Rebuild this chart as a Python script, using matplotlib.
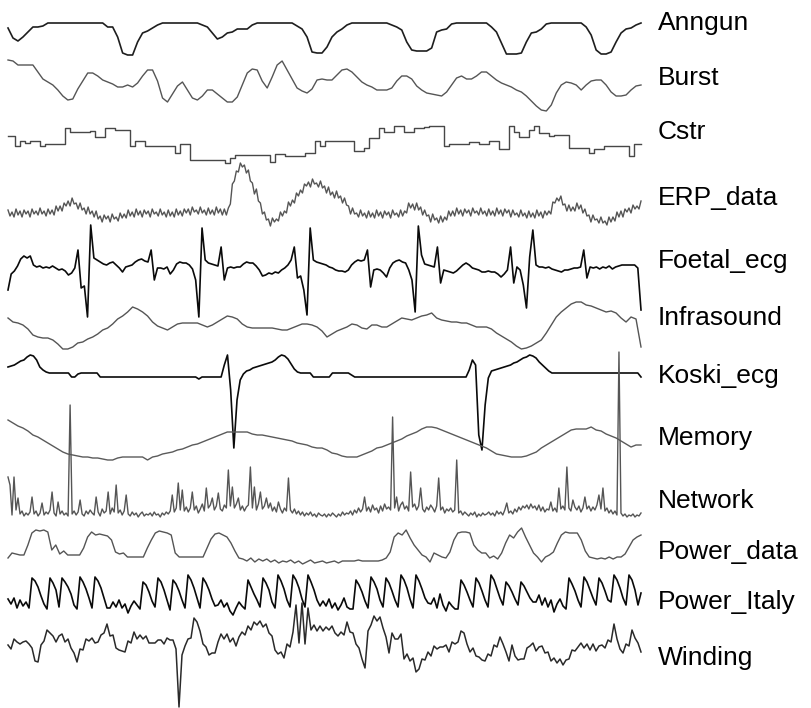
import numpy as np
import matplotlib.pyplot as plt

names = ["Anngun", "Burst", "Cstr", "ERP_data", "Foetal_ecg", "Infrasound",
         "Koski_ecg", "Memory", "Network", "Power_data", "Power_Italy", "Winding"]

anngun = [27, 17, 14, 18, 23, 28, 28, 29, 32, 32,
          32, 32, 32, 32, 32, 32, 32, 32, 32, 32,
          28, 28, 18, 2, 0, 0, 13, 22, 24, 27,
          30, 32, 32, 32, 32, 32, 32, 32, 32, 30,
          28, 22, 16, 18, 22, 23, 26, 26, 26, 30,
          32, 32, 32, 32, 32, 32, 32, 32, 29, 26,
          18, 3, 2, 2, 8, 18, 23, 26, 30, 32,
          32, 32, 32, 32, 32, 32, 32, 30, 28, 25,
          13, 5, 4, 4, 4, 7, 23, 25, 26, 31,
          32, 32, 32, 32, 32, 32, 32, 28, 23, 12,
          1, 1, 1, 2, 13, 22, 23, 26, 31, 32,
          32, 32, 32, 32, 32, 32, 28, 20, 5, 1,
          1, 3, 13, 22, 26, 27, 30, 32]

burst = [53, 52, 48, 48, 48, 48, 41, 34, 31, 28,
         23, 17, 13, 14, 24, 32, 40, 40, 37, 33,
         31, 29, 26, 26, 28, 26, 30, 37, 43, 43,
         32, 15, 11, 19, 27, 31, 23, 15, 13, 17,
         23, 23, 19, 15, 11, 11, 16, 28, 40, 44,
         43, 32, 25, 36, 48, 52, 43, 34, 25, 22,
         20, 24, 33, 34, 33, 33, 38, 43, 44, 41,
         36, 31, 28, 26, 23, 23, 23, 25, 32, 37,
         37, 34, 27, 23, 20, 19, 18, 17, 21, 28,
         35, 37, 34, 34, 37, 41, 41, 37, 33, 30,
         28, 26, 23, 21, 17, 12, 7, 3, 2, 8,
         20, 28, 31, 30, 28, 23, 28, 32, 33, 33,
         28, 21, 17, 17, 18, 23, 27, 28]

cstr = [27, 27, 17, 22, 20, 22, 22, 17, 19, 19,
        19, 19, 35, 31, 31, 31, 31, 32, 26, 26,
        35, 35, 33, 33, 33, 17, 22, 22, 17, 17,
        17, 17, 17, 17, 10, 19, 19, 3, 3, 3,
        3, 3, 3, 3, 0, 5, 8, 8, 8, 8,
        8, 8, 8, 1, 9, 9, 7, 7, 7, 7,
        10, 10, 22, 17, 22, 22, 22, 22, 22, 22,
        12, 12, 15, 25, 25, 35, 31, 31, 37, 37,
        31, 31, 35, 35, 36, 37, 37, 37, 17, 19,
        19, 19, 19, 21, 21, 19, 19, 22, 22, 14,
        14, 37, 31, 26, 26, 33, 37, 30, 30, 27,
        28, 28, 28, 15, 15, 15, 15, 10, 14, 14,
        17, 17, 17, 17, 17, 7, 19, 19]

erp_data = [20, 14, 18, 13, 21, 15, 19, 13, 20, 16,
            19, 13, 21, 16, 19, 15, 22, 16, 19, 14,
            21, 16, 20, 15, 24, 19, 24, 19, 27, 24,
            29, 24, 32, 26, 27, 21, 27, 20, 22, 16,
            23, 16, 19, 13, 19, 11, 14, 8, 15, 11,
            14, 8, 16, 11, 13, 9, 17, 12, 16, 12,
            20, 14, 18, 13, 21, 15, 19, 13, 20, 16,
            19, 13, 21, 16, 18, 14, 21, 15, 18, 13,
            20, 14, 18, 13, 21, 15, 19, 14, 21, 17,
            21, 15, 23, 18, 20, 16, 23, 17, 20, 15,
            22, 16, 20, 15, 23, 17, 21, 15, 21, 15,
            22, 26, 46, 49, 59, 58, 67, 63, 65, 57,
            60, 49, 47, 36, 41, 29, 27, 16, 18, 10,
            11, 4, 12, 8, 11, 9, 18, 14, 19, 17,
            28, 24, 30, 27, 37, 34, 40, 37, 46, 44,
            48, 43, 51, 46, 47, 43, 49, 42, 44, 37,
            43, 35, 38, 32, 39, 32, 34, 27, 32, 25,
            24, 16, 22, 16, 17, 13, 20, 14, 17, 12,
            19, 13, 17, 12, 20, 14, 18, 12, 19, 15,
            18, 12, 20, 15, 17, 13, 20, 14, 19, 17,
            27, 22, 26, 20, 27, 20, 23, 15, 20, 14,
            15, 8, 16, 10, 12, 7, 14, 8, 13, 10,
            19, 14, 19, 14, 22, 16, 20, 14, 21, 17,
            20, 14, 22, 17, 19, 15, 22, 16, 19, 14,
            21, 15, 19, 14, 22, 16, 20, 14, 21, 17,
            20, 13, 20, 15, 17, 13, 20, 14, 17, 12,
            19, 13, 17, 12, 20, 14, 18, 12, 19, 15,
            19, 16, 28, 27, 32, 29, 34, 25, 26, 19,
            25, 19, 23, 19, 27, 21, 25, 17, 21, 14,
            15, 8, 15, 10, 11, 7, 13, 7, 9, 5,
            13, 8, 13, 9, 18, 13, 19, 13, 21, 18,
            22, 17, 25, 21, 24, 21, 29]

foetal_ecg = [30, 46, 49, 54, 61, 64, 62, 64, 55, 53,
              54, 52, 53, 52, 54, 52, 50, 51, 49, 45,
              47, 52, 70, 32, 34, 3, 95, 62, 60, 58,
              56, 55, 57, 58, 55, 52, 48, 53, 54, 55,
              58, 60, 61, 59, 58, 70, 40, 52, 52, 51,
              53, 46, 50, 56, 58, 57, 57, 55, 51, 40,
              3, 92, 60, 57, 56, 55, 54, 73, 40, 52,
              53, 52, 53, 53, 56, 58, 57, 57, 54, 50,
              44, 45, 47, 46, 48, 47, 50, 52, 55, 60,
              73, 42, 44, 30, 5, 92, 60, 58, 57, 56,
              55, 53, 52, 50, 49, 49, 48, 50, 55, 58,
              60, 59, 60, 70, 33, 50, 51, 50, 47, 43,
              52, 57, 59, 60, 58, 57, 50, 40, 8, 94,
              65, 56, 55, 54, 53, 73, 37, 50, 49, 48,
              47, 49, 52, 55, 57, 55, 52, 51, 50, 48,
              48, 49, 48, 48, 46, 43, 46, 50, 73, 37,
              53, 50, 35, 12, 63, 90, 55, 53, 53, 52,
              53, 51, 50, 49, 48, 50, 50, 51, 52, 52,
              53, 70, 42, 53, 52, 53, 51, 53, 52, 54,
              51, 53, 54, 55, 55, 55, 55, 55, 52, 10]

infrasound = [37, 33, 32, 30, 26, 20, 18, 17, 17, 15,
              11, 6, 6, 8, 12, 13, 16, 18, 21, 25,
              27, 31, 36, 39, 43, 48, 46, 43, 39, 33,
              29, 27, 25, 28, 31, 32, 32, 32, 32, 30,
              28, 30, 33, 36, 39, 38, 36, 31, 28, 27,
              27, 27, 27, 27, 26, 25, 25, 27, 29, 31,
              31, 30, 28, 24, 18, 21, 24, 26, 28, 31,
              30, 27, 26, 30, 30, 28, 28, 31, 34, 37,
              36, 35, 37, 39, 40, 42, 37, 35, 34, 33,
              33, 32, 32, 30, 28, 28, 28, 26, 22, 19,
              16, 13, 9, 6, 7, 9, 12, 15, 22, 30,
              38, 43, 47, 51, 53, 53, 50, 49, 47, 45,
              43, 44, 42, 37, 33, 38, 36, 8]

koski_ecg = [83, 84, 85, 87, 89, 90, 93, 95, 94, 90,
             83, 80, 78, 77, 77, 77, 77, 77, 77, 77,
             73, 73, 76, 77, 77, 77, 77, 77, 77, 73,
             73, 73, 73, 73, 73, 73, 73, 73, 73, 73,
             73, 73, 73, 73, 73, 73, 73, 73, 73, 73,
             73, 73, 73, 73, 73, 73, 73, 73, 73, 73,
             71, 73, 73, 73, 73, 73, 73, 73, 85, 95,
             60, 2, 50, 70, 76, 79, 80, 82, 83, 84,
             85, 86, 87, 88, 90, 93, 95, 94, 91, 86,
             81, 78, 77, 77, 77, 77, 73, 73, 73, 73,
             73, 73, 77, 77, 77, 77, 77, 77, 75, 73,
             73, 73, 73, 73, 73, 73, 73, 73, 73, 73,
             73, 73, 73, 73, 73, 73, 73, 73, 73, 73,
             73, 73, 73, 73, 73, 73, 73, 73, 73, 73,
             73, 73, 73, 73, 73, 80, 90, 85, 15, 0,
             45, 72, 79, 80, 81, 82, 83, 84, 85, 87,
             88, 90, 92, 93, 95, 94, 92, 88, 85, 82,
             79, 77, 77, 77, 77, 77, 77, 77, 77, 77,
             77, 77, 77, 77, 77, 77, 77, 77, 77, 77,
             77, 77, 77, 77, 77, 77, 77, 77, 77, 73]

memory = [45, 42, 39, 37, 34, 30, 28, 25, 22, 19,
          16, 13, 11, 10, 9, 8, 8, 7, 7, 6,
          5, 5, 7, 8, 8, 8, 8, 8, 5, 8,
          9, 11, 12, 13, 15, 16, 18, 20, 21, 23,
          25, 27, 29, 31, 33, 33, 33, 33, 33, 31,
          30, 30, 29, 28, 27, 26, 25, 24, 22, 21,
          20, 18, 17, 17, 15, 12, 11, 9, 8, 8,
          8, 10, 12, 14, 17, 18, 20, 22, 24, 26,
          29, 31, 33, 36, 38, 38, 37, 35, 33, 31,
          29, 27, 25, 23, 21, 19, 17, 14, 11, 10,
          9, 8, 8, 8, 9, 11, 13, 17, 20, 23,
          26, 29, 32, 35, 36, 36, 36, 38, 35, 34,
          31, 29, 27, 24, 21, 18, 20, 20]

network = [43, 35, 5, 43, 10, 22, 6, 9, 4, 7,
           5, 8, 23, 6, 9, 4, 7, 17, 5, 8,
           6, 10, 28, 7, 4, 18, 6, 9, 5, 7,
           4, 115, 6, 9, 5, 8, 20, 6, 4, 9,
           6, 10, 7, 5, 23, 8, 4, 11, 7, 9,
           28, 6, 12, 8, 35, 7, 10, 5, 9, 25,
           6, 4, 8, 5, 7, 3, 6, 8, 4, 6,
           5, 7, 4, 8, 5, 6, 3, 7, 5, 8,
           6, 9, 25, 8, 12, 37, 10, 30, 9, 13,
           8, 12, 28, 10, 14, 7, 11, 16, 9, 32,
           12, 15, 22, 10, 14, 27, 11, 9, 15, 12,
           50, 14, 33, 12, 16, 22, 10, 14, 9, 13,
           15, 53, 12, 33, 10, 16, 28, 11, 14, 22,
           12, 17, 9, 13, 8, 18, 11, 7, 12, 9,
           42, 10, 7, 11, 6, 9, 5, 8, 4, 7,
           5, 8, 4, 6, 3, 7, 5, 4, 6, 3,
           6, 4, 7, 5, 3, 6, 4, 8, 5, 7,
           6, 9, 5, 10, 7, 12, 8, 11, 23, 9,
           13, 8, 15, 10, 12, 7, 14, 9, 16, 11,
           13, 10, 103, 12, 23, 9, 15, 18, 11, 14,
           9, 48, 13, 16, 10, 14, 32, 11, 8, 13,
           10, 15, 12, 8, 14, 42, 10, 13, 7, 11,
           9, 12, 8, 10, 60, 7, 9, 5, 8, 6,
           4, 7, 5, 8, 3, 6, 4, 7, 5, 6,
           8, 5, 7, 4, 9, 6, 8, 5, 10, 17,
           7, 9, 6, 11, 8, 13, 10, 14, 12, 15,
           11, 16, 12, 14, 10, 15, 9, 13, 8, 11,
           10, 18, 9, 12, 8, 32, 11, 14, 10, 53,
           12, 9, 20, 13, 10, 14, 8, 12, 23, 11,
           14, 9, 13, 10, 15, 25, 11, 32, 9, 12,
           7, 10, 6, 9, 5, 168, 7, 4, 6, 3,
           5, 4, 6, 3, 5, 4, 7]

power_data = [7, 12, 11, 10, 10, 20, 32, 35, 34, 35,
              33, 15, 20, 11, 14, 10, 10, 10, 10, 17,
              28, 33, 30, 31, 30, 29, 25, 13, 11, 12,
              8, 8, 8, 8, 8, 17, 25, 32, 34, 33,
              32, 30, 12, 8, 8, 8, 8, 8, 8, 8,
              17, 26, 31, 32, 30, 28, 22, 14, 7, 6,
              4, 7, 3, 6, 4, 6, 3, 5, 2, 4,
              3, 5, 2, 4, 1, 3, 5, 2, 3, 4,
              2, 3, 4, 2, 4, 4, 4, 4, 5, 4,
              4, 4, 4, 4, 5, 7, 13, 28, 32, 30,
              35, 27, 20, 15, 10, 8, 3, 12, 10, 8,
              7, 13, 25, 32, 33, 33, 32, 20, 15, 12,
              12, 7, 9, 6, 12, 22, 30, 27, 33, 37,
              28, 20, 12, 8, 3, 8, 10, 13, 22, 30,
              33, 32, 32, 32, 25, 14, 8, 7, 6, 7,
              6, 8, 6, 8, 8, 11, 18, 25, 28, 30]

power_italy = [21, 16, 22, 12, 20, 14, 18, 12,
               42, 39, 33, 24, 16, 11,
               42, 37, 30, 13,
               42, 38, 33, 26, 15, 11,
               43, 38, 31, 22, 12,
               43, 39, 32, 22, 12,
               12, 18, 13, 20, 12, 16, 7, 14, 19, 15, 11,
               38, 35, 28, 19, 13,
               42, 38, 30, 20, 10,
               40, 36, 29, 20, 12,
               45, 40, 32, 22, 12,
               42, 37, 30, 21, 14,
               15, 20, 13, 17, 9, 5, 12, 18, 14, 11,
               40, 33, 26, 20, 13,
               42, 37, 30, 18, 12,
               45, 39, 31, 20, 13,
               45, 40, 32, 21, 13,
               45, 38, 30, 20, 14,
               19, 14, 21, 12, 17, 10, 15, 22, 13, 11, 11,
               40, 35, 28, 19, 12,
               43, 38, 31, 20, 13,
               42, 37, 29, 20, 13,
               45, 40, 32, 21, 12,
               45, 39, 31, 22, 17,
               16, 22, 12, 26, 15, 9, 18, 14, 11, 11,
               40, 35, 28, 20, 13,
               42, 37, 29, 20, 13,
               45, 40, 31, 22, 15,
               38, 34, 28, 21, 15,
               38, 34, 28, 22, 18,
               18, 25, 15, 22, 13, 20, 8, 16, 21, 14, 11,
               42, 36, 29, 20, 13,
               43, 38, 30, 22, 15,
               42, 37, 29, 20, 18,
               45, 40, 32, 22, 15,
               45, 40, 30, 15, 27]

winding = [65, 61, 71, 68, 66, 68, 69, 66, 62, 49,
           48, 65, 69, 80, 77, 74, 68, 74, 76, 68,
           71, 62, 57, 48, 61, 60, 71, 69, 72, 67,
           68, 75, 77, 86, 74, 75, 62, 60, 59, 58,
           69, 67, 78, 71, 75, 71, 74, 67, 67, 67,
           70, 70, 66, 72, 70, 70, 61, 3, 55, 64,
           71, 72, 92, 88, 79, 66, 63, 55, 57, 57,
           68, 76, 71, 76, 68, 72, 64, 73, 78, 75,
           84, 80, 88, 85, 89, 83, 86, 77, 74, 60,
           56, 58, 52, 66, 63, 78, 105, 67, 107, 66,
           102, 80, 85, 79, 84, 79, 83, 80, 84, 77,
           74, 78, 75, 88, 78, 77, 66, 62, 51, 42,
           79, 85, 94, 89, 93, 82, 73, 57, 77, 71,
           71, 76, 51, 56, 49, 52, 38, 41, 51, 50,
           58, 54, 64, 61, 63, 63, 65, 58, 68, 66,
           68, 79, 77, 66, 58, 62, 54, 53, 50, 49,
           56, 54, 65, 63, 73, 66, 58, 49, 65, 54,
           50, 51, 51, 62, 64, 67, 59, 63, 64, 57,
           58, 49, 52, 47, 51, 45, 50, 51, 60, 59,
           63, 67, 62, 66, 60, 66, 59, 64, 65, 62,
           70, 68, 86, 71, 61, 57, 66, 64, 80, 72,
           67, 58]

series = [anngun, burst, cstr, erp_data, foetal_ecg, infrasound,
          koski_ecg, memory, network, power_data, power_italy, winding]

# zero level of each trace and label baseline, in pixels from the top
offsets = [55, 113, 163, 230, 320, 355, 450, 465, 520, 565, 620, 710]
label_y = [30, 85, 139, 205, 268, 325, 383, 445, 508, 559, 609, 665]
colors = ["#1e1e1e", "#555555", "#474747", "#555555", "#0a0a0a", "#555555",
          "#0a0a0a", "#5a5a5a", "#555555", "#555555", "#0a0a0a", "#2a2a2a"]
widths = [1.2, 1.0, 1.0, 1.0, 1.2, 1.0, 1.2, 1.0, 1.0, 1.0, 1.2, 1.1]
styles = ["default", "default", "steps-mid", "default", "default", "default",
          "default", "default", "default", "default", "default", "default"]

W, H = 811, 708
x0, x1 = 8, 641

fig = plt.figure(figsize=(W / 100, H / 100), dpi=100)
ax = fig.add_axes([x0 / W, 0, (x1 - x0) / W, 1])
ax.set_xlim(0, 1)
ax.set_ylim(H, 0)
ax.axis("off")

for vals, off, col, lw, ds in zip(series, offsets, colors, widths, styles):
    v = np.asarray(vals, dtype=float)
    t = np.linspace(0, 1, len(v))
    ax.plot(t, off - v, color=col, lw=lw, drawstyle=ds, clip_on=False)

lx = (658 - x0) / (x1 - x0)
for name, ly in zip(names, label_y):
    ax.text(lx, ly, name, fontsize=19, family="Liberation Sans",
            ha="left", va="baseline", color="black", clip_on=False)

fig.savefig("out.png", dpi=100)
